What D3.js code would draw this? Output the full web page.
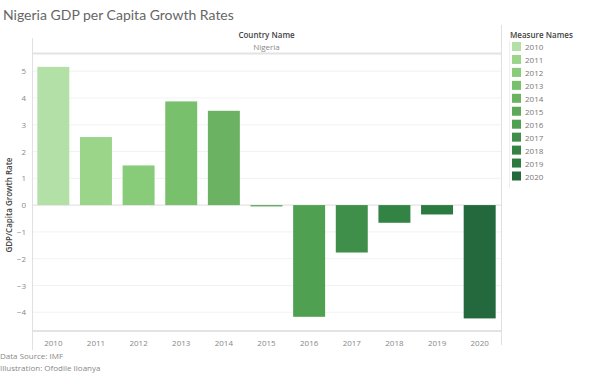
<!DOCTYPE html>
<html><head><meta charset="UTF-8">
<title>Nigeria GDP per Capita Growth Rates</title>
<script src="https://cdn.jsdelivr.net/npm/d3@7"></script>
<style>
  body { margin: 0; background: #fff; }
  svg { display: block; font-family: "Open Sans", Lato, sans-serif; }
</style>
</head>
<body>
<div id="chart"></div>
<script>
  // data
  const years = ["2010","2011","2012","2013","2014","2015","2016","2017","2018","2019","2020"];
  const growth = [5.16, 2.54, 1.48, 3.87, 3.52, -0.05, -4.17, -1.77, -0.66, -0.35, -4.23];
  const yTicks = [-4, -3, -2, -1, 0, 1, 2, 3, 4, 5];
  const colors = ["#b3e0a6","#9ad58a","#88cc7a","#78c06c","#6bb362","#5ea85a","#50a052","#3f8f4a","#338444","#2b7a40","#24693d"];

  const width = 600, height = 375;
  const plotL = 32, plotR = 501, plotT = 54, plotB = 331;

  const svg = d3.select("#chart").append("svg")
    .attr("width", width).attr("height", height);

  const x = d3.scaleBand().domain(years).range([plotL, plotR])
    .paddingInner(0.25).paddingOuter(0.125);
  const y = d3.scaleLinear().domain([-4.7, 5.64]).range([plotB, plotT]);
  const color = d3.scaleOrdinal().domain(years).range(colors);

  // title
  svg.append("text").attr("x", 3).attr("y", 20)
    .attr("font-family", "Lato, sans-serif")
    .attr("font-size", 14).attr("fill", "#666").text("Nigeria GDP per Capita Growth Rates");

  // header
  const midX = (plotL + plotR) / 2;
  svg.append("text").attr("x", midX).attr("y", 38).attr("text-anchor", "middle")
    .attr("font-size", 8).attr("font-weight", 600).attr("fill", "#444").text("Country Name");
  svg.append("text").attr("x", midX).attr("y", 50).attr("text-anchor", "middle")
    .attr("font-size", 8).attr("fill", "#888").text("Nigeria");

  // gridlines
  svg.append("g").selectAll("line").data(yTicks).join("line")
    .attr("x1", plotL).attr("x2", plotR)
    .attr("y1", d => y(d)).attr("y2", d => y(d))
    .attr("stroke", d => d === 0 ? "#ddd" : "#f2f2f2").attr("stroke-width", 1);

  // bars
  svg.append("g").selectAll("rect").data(years).join("rect")
    .attr("x", d => x(d))
    .attr("width", x.bandwidth())
    .attr("y", (d, i) => y(Math.max(0, growth[i])))
    .attr("height", (d, i) => Math.abs(y(growth[i]) - y(0)))
    .attr("fill", d => color(d));

  // frame lines
  svg.append("line").attr("x1", plotL).attr("x2", plotR).attr("y1", 53.5).attr("y2", 53.5)
    .attr("stroke", "#e3e3e3").attr("stroke-width", 2);
  svg.append("line").attr("x1", plotL).attr("x2", plotR).attr("y1", plotB).attr("y2", plotB)
    .attr("stroke", "#e3e3e3").attr("stroke-width", 2);
  svg.append("line").attr("x1", plotL + 0.5).attr("x2", plotL + 0.5).attr("y1", 38).attr("y2", 350)
    .attr("stroke", "#e0e0e0");
  svg.append("line").attr("x1", plotR + 0.5).attr("x2", plotR + 0.5).attr("y1", 25).attr("y2", 345)
    .attr("stroke", "#e0e0e0");

  // y axis
  const yAxis = svg.append("g").attr("transform", `translate(${plotL},0)`)
    .call(d3.axisLeft(y).tickValues(yTicks).tickSize(0).tickPadding(6));
  yAxis.select(".domain").remove();
  yAxis.selectAll("text").attr("font-size", 8).attr("fill", "#888").attr("font-family", "Open Sans, sans-serif");

  svg.append("text").attr("transform", `translate(12,${y(0)}) rotate(-90)`)
    .attr("text-anchor", "middle").attr("font-size", 8).attr("font-weight", 600)
    .attr("fill", "#444").text("GDP/Capita Growth Rate");

  // x axis
  const xAxis = svg.append("g").attr("transform", `translate(0,${plotB})`)
    .call(d3.axisBottom(x).tickSize(0).tickPadding(9));
  xAxis.select(".domain").remove();
  xAxis.selectAll("text").attr("font-size", 8).attr("fill", "#888").attr("font-family", "Open Sans, sans-serif");

  // footer
  svg.append("text").attr("x", 0).attr("y", 359).attr("font-size", 8).attr("fill", "#888")
    .text("Data Source: IMF");
  svg.append("text").attr("x", 0).attr("y", 371).attr("font-size", 8).attr("fill", "#888")
    .text("Illustration: Ofodile Iloanya");

  // legend
  const lg = svg.append("g").attr("transform", "translate(510,0)");
  lg.append("text").attr("x", 0).attr("y", 38).attr("font-size", 8).attr("font-weight", 600)
    .attr("fill", "#444").text("Measure Names");
  lg.append("line").attr("x1", -0.5).attr("x2", -0.5).attr("y1", 41).attr("y2", 188)
    .attr("stroke", "#eee");
  const item = lg.selectAll("g.item").data(years).join("g").attr("class", "item")
    .attr("transform", (d, i) => `translate(2,${42 + i * 12.95})`);
  item.append("rect").attr("width", 9).attr("height", 9).attr("fill", d => color(d));
  item.append("text").attr("x", 13).attr("y", 8).attr("font-size", 8).attr("fill", "#777").text(d => d);
</script>
</body>
</html>
